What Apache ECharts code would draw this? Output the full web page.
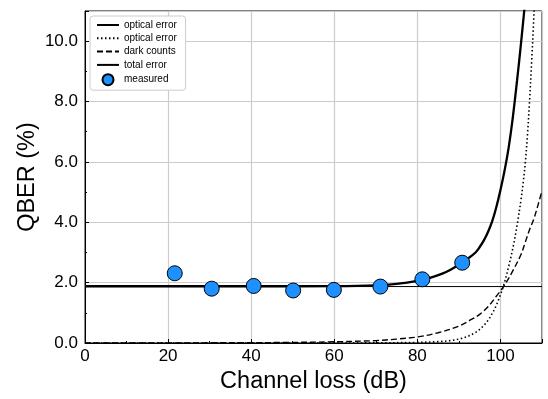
<!DOCTYPE html>
<html>
<head>
<meta charset="utf-8">
<script src="https://cdn.jsdelivr.net/npm/echarts@6/dist/echarts.min.js"></script>
<style>
html,body{margin:0;padding:0;background:#fff;}
#chart{width:548px;height:399px;}
</style>
</head>
<body>
<div id="chart"></div>
<script>
// measured points
var measX = [21.6, 30.5, 40.6, 50.1, 59.9, 71.1, 81.2, 90.8];
var measY = [2.31, 1.80, 1.89, 1.74, 1.76, 1.87, 2.11, 2.66];

// optical error (flat part)
var optX = [0, 110];
var optY = [1.87, 1.87];

// optical error (dotted)
var dotX = [0, 60, 70, 80, 85, 88, 90, 92, 94, 95, 96, 97, 98, 99, 100, 101, 102, 103, 104, 105, 105.5, 106, 106.5, 107, 107.5, 108, 108.5];
var dotY = [0, 0, 0.005, 0.02, 0.045, 0.08, 0.13, 0.21, 0.35, 0.45, 0.58, 0.75, 0.97, 1.25, 1.6, 2.02, 2.55, 3.15, 3.9, 4.8, 5.35, 6.0, 6.9, 8.0, 9.3, 10.7, 12.3];

// dark counts (dashed)
var darkX = [0, 20, 40, 50, 60, 70, 75, 80, 85, 90, 93, 95, 97, 99, 101, 103, 105, 106, 107, 108, 109, 110];
var darkY = [0, 0.003, 0.01, 0.02, 0.04, 0.08, 0.13, 0.2, 0.34, 0.56, 0.78, 0.95, 1.2, 1.55, 1.92, 2.4, 2.95, 3.35, 3.75, 4.1, 4.55, 5.05];

// total error
var totX = [0, 20, 40, 60, 70, 75, 80, 83, 86, 88, 90, 92, 94, 95, 96, 97, 98, 99, 100, 101, 102, 103, 104, 105, 106];
var totY = [1.88, 1.88, 1.88, 1.885, 1.91, 1.96, 2.06, 2.16, 2.3, 2.43, 2.59, 2.78, 3.0, 3.18, 3.4, 3.68, 4.03, 4.5, 5.07, 5.72, 6.5, 7.5, 8.7, 10.0, 11.4];

function pairs(xs, ys) {
  var out = [];
  for (var i = 0; i < xs.length; i++) out.push([xs[i], ys[i]]);
  return out;
}

var font = 'Liberation Sans, Arial, sans-serif';
var myChart = echarts.init(document.getElementById('chart'));

var noMark = { opacity: 0, borderWidth: 0 };

var option = {
  backgroundColor: '#fff',
  animation: false,
  grid: {
    left: 85, right: 6, top: 11, bottom: 55,
    show: true, borderColor: '#000', borderWidth: 1
  },
  legend: {
    orient: 'vertical',
    left: 90, top: 16,
    padding: [4, 6, 4, 6],
    itemGap: 3.3,
    itemWidth: 22, itemHeight: 11,
    backgroundColor: '#fff',
    borderColor: '#cccccc', borderWidth: 1, borderRadius: 3,
    textStyle: { fontFamily: font, fontSize: 10, color: '#000' },
    data: [
      { name: 'optical error', itemStyle: noMark },
      { name: 'optical error ', itemStyle: noMark },
      { name: 'dark counts', itemStyle: noMark },
      { name: 'total error', itemStyle: noMark },
      { name: 'measured', icon: 'circle' }
    ]
  },
  xAxis: {
    type: 'value', min: 0, max: 110, interval: 20,
    name: 'Channel loss (dB)', nameLocation: 'middle', nameGap: 27, nameMoveOverlap: false,
    nameTextStyle: { fontFamily: font, fontSize: 23.5, color: '#000' },
    axisLine: { lineStyle: { color: '#000' } },
    axisTick: { inside: true, length: 4, lineStyle: { color: '#000' } },
    minorTick: { show: true, splitNumber: 2, length: 2, lineStyle: { color: '#000' } },
    axisLabel: { fontFamily: font, fontSize: 17, color: '#000', margin: 5, showMaxLabel: false },
    splitLine: { show: true, lineStyle: { color: '#cccccc', width: 1.2 } }
  },
  yAxis: {
    type: 'value', min: 0, max: 11, interval: 2,
    name: 'QBER (%)', nameLocation: 'middle', nameGap: 45, nameMoveOverlap: false,
    nameTextStyle: { fontFamily: font, fontSize: 23.5, color: '#000' },
    axisLine: { show: true, lineStyle: { color: '#000' } },
    axisTick: { show: true, inside: true, length: 4, lineStyle: { color: '#000' } },
    minorTick: { show: true, splitNumber: 2, length: 2, lineStyle: { color: '#000' } },
    axisLabel: {
      fontFamily: font, fontSize: 17, color: '#000', margin: 7, showMaxLabel: false,
      formatter: function (v) { return v > 10 ? '' : v.toFixed(1); }
    },
    splitLine: { show: true, lineStyle: { color: '#cccccc', width: 1.2 } }
  },
  series: [
    {
      name: 'optical error', type: 'line', data: pairs(optX, optY),
      symbol: 'none', lineStyle: { color: '#000', width: 1 }, itemStyle: { color: '#000' }, z: 3
    },
    {
      name: 'optical error ', type: 'line', data: pairs(dotX, dotY),
      symbol: 'none', smooth: 0.35,
      lineStyle: { color: '#000', width: 1.6, type: [1.5, 2.5] }, itemStyle: { color: '#000' }, z: 3
    },
    {
      name: 'dark counts', type: 'line', data: pairs(darkX, darkY),
      symbol: 'none', smooth: 0.35,
      lineStyle: { color: '#000', width: 1.4, type: [6, 3] }, itemStyle: { color: '#000' }, z: 3
    },
    {
      name: 'total error', type: 'line', data: pairs(totX, totY),
      symbol: 'none', smooth: 0.35,
      lineStyle: { color: '#000', width: 2.3 }, itemStyle: { color: '#000' }, z: 4
    },
    {
      name: 'measured', type: 'scatter', data: pairs(measX, measY),
      symbol: 'circle', symbolSize: 15,
      itemStyle: { color: '#1e90ff', borderColor: '#000', borderWidth: 1, opacity: 1 }, z: 5
    }
  ]
};

myChart.setOption(option);
</script>
</body>
</html>
